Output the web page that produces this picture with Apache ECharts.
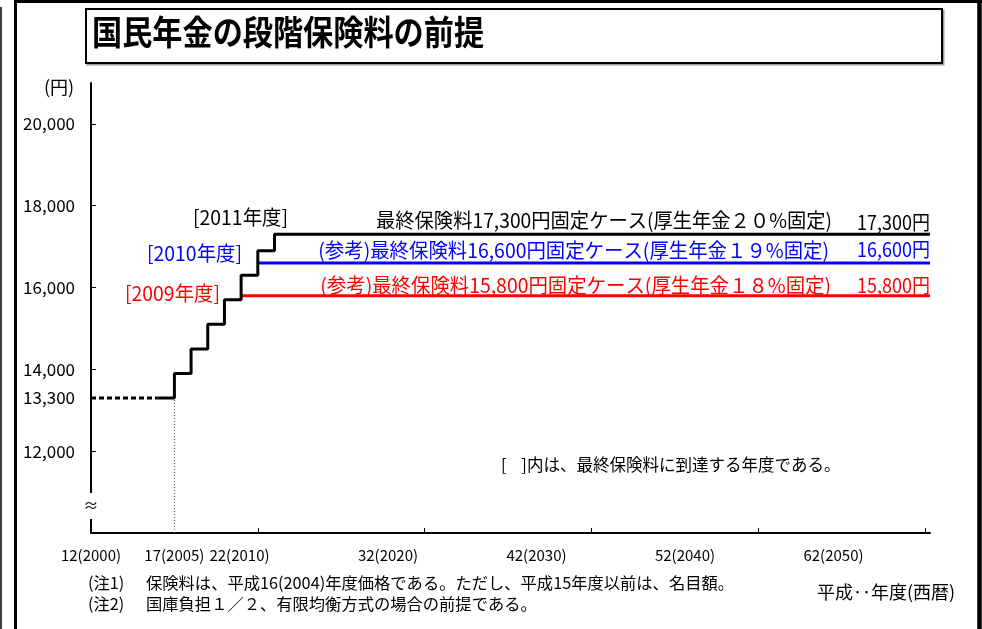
<!DOCTYPE html>
<html><head><meta charset="utf-8">
<script src="https://cdn.jsdelivr.net/npm/echarts@6/dist/echarts.min.js"></script>
<style>html,body{margin:0;padding:0;background:#fff}#c{width:982px;height:629px}</style>
</head><body><div id="c"></div>
<script>
// ---- data ----
const axisStartYear = 2000;
const axisEndYear = 2050.3;
const preYears = [2000, 2004];
const preValue = 13300;
const stepYears = [2004, 2005, 2006, 2007, 2008, 2009, 2010, 2011];
const stepValues = [13300, 13900, 14500, 15100, 15700, 16300, 16900, 17300];
const caseBlack = { start: 2011, value: 17300 };
const caseBlue = { start: 2010, value: 16600 };
const caseRed = { start: 2009, value: 15800 };
const markerYear = 2005;
const yMin = 10000, yMax = 21000;
const yTickValues = [12000, 14000, 16000, 18000, 20000];
const yLabelValues = [12000, 13300, 14000, 16000, 18000, 20000];
const xTickYears = [2010, 2020, 2030, 2040, 2050];
const xLabelYears = [2000, 2010, 2020, 2030, 2040, 2050];
const xLabelAxisMax = 2056.5;
const xExtraLabelYears = [2005];

const FONT = "'Liberation Sans Narrow','Arial Narrow','Noto Sans CJK JP',sans-serif";
const CJK = "'Liberation Sans Narrow','Noto Sans CJK JP',sans-serif";
const yearLabel = y => (y - 1988) + '(' + y + ')';
const fmt = v => v.toLocaleString('en-US');

const chart = echarts.init(document.getElementById('c'), null, { renderer: 'canvas' });

function txt(text, x, y, size, color, align, sx) {
  return {
    type: 'text', x: x, y: y, z: 100, scaleX: sx || 1,
    style: { text: text, fill: color, font: size + 'px ' + CJK, align: align || 'left', verticalAlign: 'middle' }
  };
}
function ln(x1, y1, x2, y2, w, c) {
  return { type: 'line', z: 100, shape: { x1, y1, x2, y2 }, style: { stroke: c || '#000', lineWidth: w } };
}

const stepData = stepYears.map((y, i) => [y, stepValues[i]]);
stepData.push([axisEndYear, caseBlack.value]);

const option = {
  animation: false,
  backgroundColor: '#fff',
  grid: { left: 91, right: 52, top: 83, bottom: 96, containLabel: false, outerBoundsMode: 'none' },
  xAxis: [{
    type: 'value', min: axisStartYear, max: axisEndYear, position: 'bottom',
    axisLine: { show: true, lineStyle: { color: '#000', width: 2 } },
    axisTick: { show: true, inside: true, length: 5, customValues: xTickYears, lineStyle: { color: '#000', width: 1 } },
    axisLabel: { show: true, customValues: xExtraLabelYears, formatter: yearLabel, margin: 15, color: '#000', fontSize: 15, fontFamily: FONT },
    splitLine: { show: false }
  }, {
    type: 'value', min: axisStartYear, max: xLabelAxisMax, position: 'bottom',
    axisLine: { show: false }, axisTick: { show: false },
    axisLabel: { show: true, customValues: xLabelYears, formatter: yearLabel, margin: 15, color: '#000', fontSize: 15, fontFamily: FONT },
    splitLine: { show: false }
  }],
  yAxis: {
    type: 'value', min: yMin, max: yMax,
    axisLine: { show: true, lineStyle: { color: '#000', width: 2 } },
    axisTick: { show: true, inside: true, length: 5, customValues: yTickValues, lineStyle: { color: '#000', width: 1 } },
    axisLabel: { show: true, customValues: yLabelValues, formatter: fmt, margin: 16, color: '#000', fontSize: 17, fontFamily: FONT },
    splitLine: { show: false }
  },
  series: [
    { type: 'line', xAxisIndex: 0, symbol: 'none', silent: true,
      data: [[markerYear, yMin], [markerYear, preValue]],
      lineStyle: { color: '#555', width: 1, type: [1, 2] } },
    { type: 'line', xAxisIndex: 0, symbol: 'none', silent: true,
      data: preYears.map(y => [y, preValue]),
      lineStyle: { color: '#000', width: 3, type: [5, 3] } },
    { type: 'line', xAxisIndex: 0, symbol: 'none', silent: true,
      data: [[caseRed.start, caseRed.value], [axisEndYear, caseRed.value]],
      lineStyle: { color: '#ff0000', width: 3 } },
    { type: 'line', xAxisIndex: 0, symbol: 'none', silent: true,
      data: [[caseBlue.start, caseBlue.value], [axisEndYear, caseBlue.value]],
      lineStyle: { color: '#0000ff', width: 3 } },
    { type: 'line', xAxisIndex: 0, symbol: 'none', silent: true, step: 'end',
      data: stepData,
      lineStyle: { color: '#000', width: 3 } }
  ],
  graphic: [
    // frame
    ln(1, 7, 1, 629, 1.5),
    ln(15.5, 0, 15.5, 629, 3),
    ln(14, 1.5, 982, 1.5, 3),
    ln(979.5, 0, 979.5, 629, 4.5),
    // title box
    { type: 'rect', z: 99, shape: { x: 87.5, y: 10.5, width: 856, height: 54 }, style: { fill: 'none', stroke: '#999', lineWidth: 2 } },
    { type: 'rect', z: 100, shape: { x: 86, y: 9, width: 856, height: 54 }, style: { fill: '#fff', stroke: '#000', lineWidth: 2 } },
    { type: 'text', x: 92, y: 32, z: 101, scaleX: 0.887, style: { text: '国民年金の段階保険料の前提', fill: '#000', font: 'bold 34px "Noto Sans CJK JP",sans-serif', align: 'left', verticalAlign: 'middle' } },
    // y axis unit and break
    txt('(円)', 59, 87, 18, '#000', 'center'),
    { type: 'rect', z: 100, shape: { x: 86, y: 493, width: 10, height: 26 }, style: { fill: '#fff' } },
    txt('≈', 91, 505, 15, '#000', 'center'),
    // annotations
    txt('[2011年度]', 193, 217, 20, '#000', 'left', 0.97),
    txt('最終保険料17,300円固定ケース(厚生年金２０%固定)', 832, 220, 20, '#000', 'right', 0.964),
    txt('17,300円', 930, 222, 20, '#000', 'right', 0.9),
    txt('[2010年度]', 147, 253, 20, '#0000ff', 'left', 0.97),
    txt('(参考)最終保険料16,600円固定ケース(厚生年金１９%固定)', 829, 250, 20, '#0000ff', 'right', 0.97),
    txt('16,600円', 930, 249, 20, '#0000ff', 'right', 0.9),
    txt('[2009年度]', 125, 293, 20, '#ff0000', 'left', 0.97),
    txt('(参考)最終保険料15,800円固定ケース(厚生年金１８%固定)', 831, 285, 20, '#ff0000', 'right', 0.97),
    txt('15,800円', 930, 285, 20, '#ff0000', 'right', 0.9),
    txt('[    ]内は、最終保険料に到達する年度である。', 501, 465, 16.5, '#000'),
    // notes
    txt('(注1)', 88, 583, 16.3, '#000'),
    txt('保険料は、平成16(2004)年度価格である。ただし、平成15年度以前は、名目額。', 146, 583, 16.3, '#000'),
    txt('(注2)', 88, 604, 16.3, '#000'),
    txt('国庫負担１／２、有限均衡方式の場合の前提である。', 146, 604, 16.3, '#000'),
    txt('平成‥年度(西暦)', 817, 592, 18, '#000')
  ]
};
chart.setOption(option);
</script></body></html>
